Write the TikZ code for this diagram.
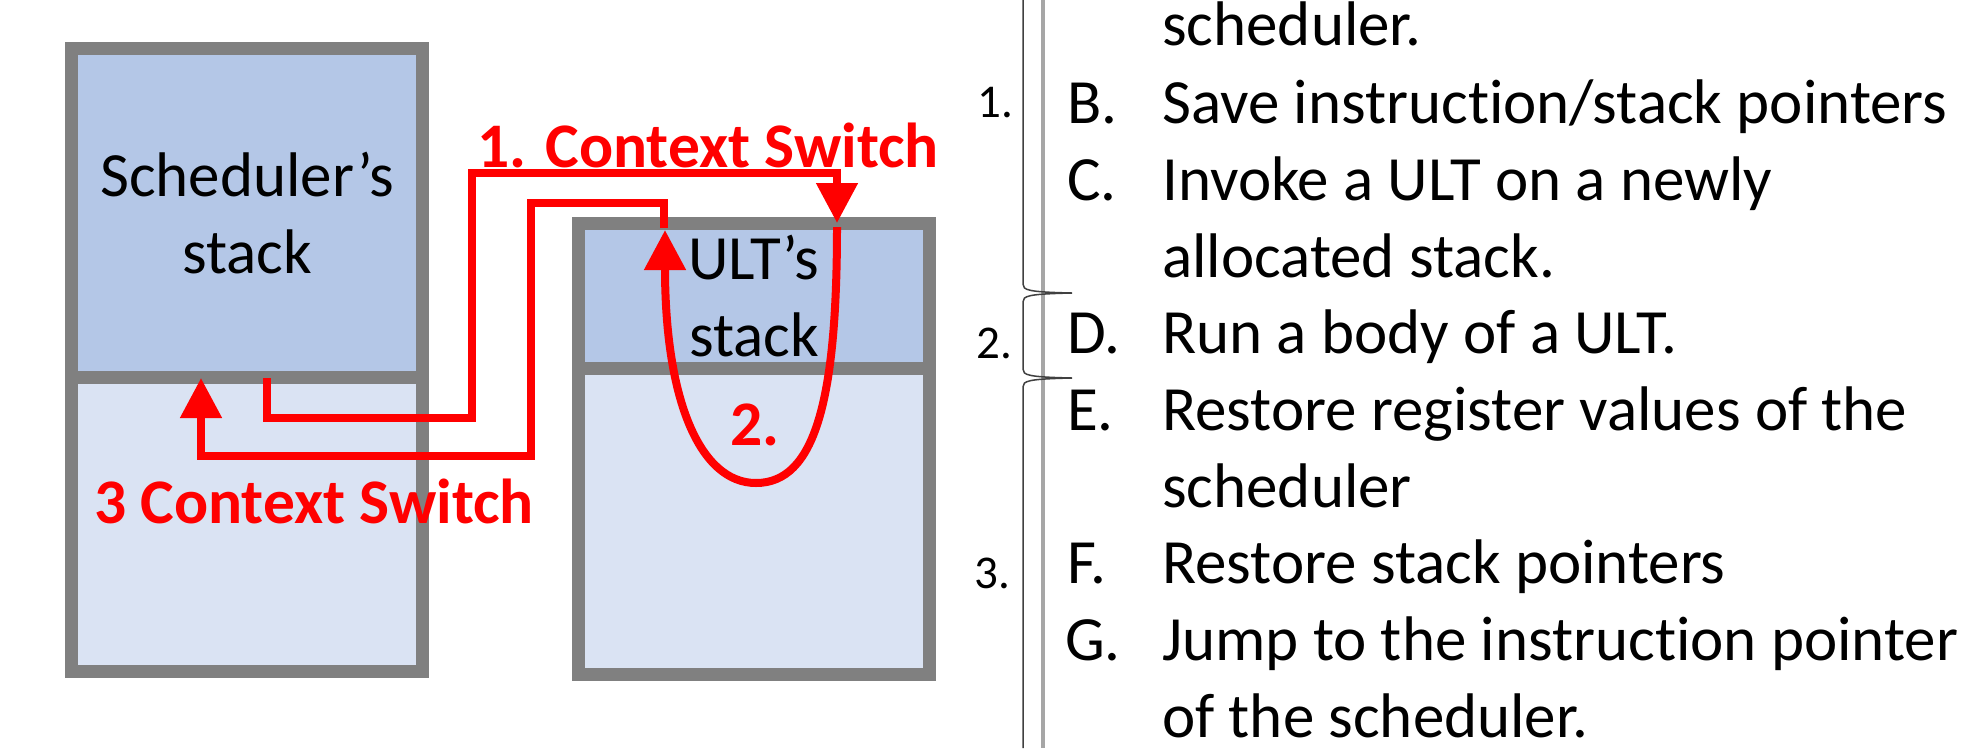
\documentclass[tikz,border=0pt]{standalone}
\usepackage{fontspec}
\setmainfont{Carlito}[Ligatures={NoCommon,NoContextual},RawFeature={-liga;-clig;-dlig;-calt}]
\usetikzlibrary{arrows.meta}
\definecolor{stkdark}{HTML}{B4C7E7}
\definecolor{stklight}{HTML}{DAE3F3}
\definecolor{stkborder}{HTML}{808080}
\definecolor{sepgray}{HTML}{A6A6A6}
\definecolor{bracecol}{HTML}{404040}
\newcommand\nolig{\kern0pt}
\begin{document}
\begin{tikzpicture}[x=1pt,y=-1pt,
  stackbox/.style={draw=stkborder,line width=13pt,rectangle,inner sep=0pt,text=black,align=center,font=\fontsize{63}{77}\selectfont},
  redpath/.style={draw=red,line width=8pt,line join=miter,-{Triangle[length=40pt,width=40pt]}},
  redlabel/.style={text=red,font=\fontsize{63.5}{74}\selectfont\bfseries,inner sep=0pt,anchor=base},
  listtext/.style={font=\fontsize{63}{77}\selectfont,inner sep=0pt,anchor=base west},
  numtext/.style={font=\fontsize{47}{56}\selectfont,inner sep=0pt,anchor=base west}]
\useasboundingbox (0,0) rectangle (1973,748);
% stacks
\node[stackbox,fill=stklight,minimum width=351pt,minimum height=294pt] (schedlow) at (247,524.5) {};
\node[stackbox,fill=stkdark,minimum width=351pt,minimum height=329pt] (schedtop) at (247,213) {Scheduler’s\\stack};
\node[stackbox,fill=stklight,minimum width=351pt,minimum height=306.5pt] (ultlow) at (754,521.25) {};
\node[stackbox,fill=stkdark,minimum width=351pt,minimum height=144.5pt] (ulttop) at (754,295.75) {ULT’s\\stack};
% connector end points
\coordinate (a1) at (267,378);
\coordinate (a2) at (837,223);
\coordinate (b1) at (837,227);
\coordinate (b2) at (665,230);
\coordinate (c1) at (664,228);
\coordinate (c2) at (201,378);
% 1. context switch
\draw[redpath] (a1) -- (267,418) -- (472,418) -- (472,173) -- (837,173) -- (a2);
% 2. run body
\draw[redpath] (b1) .. controls (837,400) and (815,483) .. (756,483) .. controls (700,483) and (665,400) .. (b2);
% 3 context switch
\draw[redpath] (c1) -- (664,203) -- (531,203) -- (531,456) -- (201,456) -- (c2);
% labels
\node[redlabel] (l1) at (708,167) {1. Context Switch};
\node[redlabel] (l2) at (755,445) {2.};
\node[redlabel] (l3) at (314,523) {3 Context Switch};
% separators
\draw[sepgray,line width=3.5pt] (1043,0) -- (1043,748);
\draw[bracecol,line width=1.5pt] (1023,0) -- (1023,284) .. controls (1023,290) and (1027,292) .. (1072,293) .. controls (1027,294) and (1023,296) .. (1023,302) -- (1023,369) .. controls (1023,375) and (1027,377) .. (1072,378) .. controls (1027,379) and (1023,381) .. (1023,387) -- (1023,748);
% group numbers
\node[numtext] (n1) at (977,117) {1.};
\node[numtext] (n2) at (976,358) {2.};
\node[numtext] (n3) at (974,588) {3.};
% list
\node[listtext] (t0) at (1162,45) {scheduler.};
\node[listtext] (kB) at (1067,123) {B.};
\node[listtext] (tB) at (1162,123) {Save instruct\nolig ion/stack pointers};
\node[listtext] (kC) at (1067,200) {C.};
\node[listtext] (tC) at (1162,200) {Invoke a ULT on a newly};
\node[listtext] (tC2) at (1162,277) {allocated stack.};
\node[listtext] (kD) at (1067,353) {D.};
\node[listtext] (tD) at (1162,353) {Run a body of a ULT.};
\node[listtext] (kE) at (1067,430) {E.};
\node[listtext] (tE) at (1162,430) {Restore register values of the};
\node[listtext] (tE2) at (1162,507) {scheduler};
\node[listtext] (kF) at (1067,583) {F.};
\node[listtext] (tF) at (1162,583) {Restore stack pointers};
\node[listtext] (kG) at (1065,660) {G.};
\node[listtext] (tG) at (1162,660) {Jump to the instruct\nolig ion pointer};
\node[listtext] (tG2) at (1162,737) {of the scheduler.};
\end{tikzpicture}
\end{document}
